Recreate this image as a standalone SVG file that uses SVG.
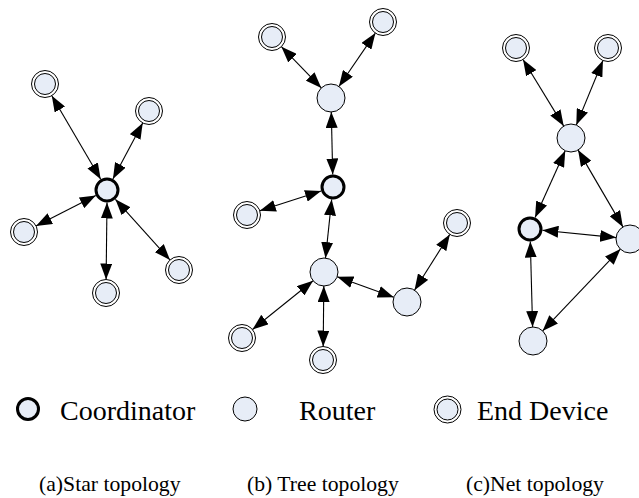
<svg xmlns="http://www.w3.org/2000/svg" width="639" height="498" viewBox="0 0 639 498">
  <style>
    .bg { fill: #ffffff; }
    .coord { fill: #e7edf7; stroke: #000; stroke-width: 3; }
    .router { fill: #e7edf7; stroke: #000; stroke-width: 1; }
    .end-outer { fill: #ffffff; stroke: #000; stroke-width: 1; }
    .end-inner { fill: #e7edf7; stroke: #000; stroke-width: 1; }
    .link { stroke: #000; stroke-width: 1.1; fill: none; marker-start: url(#arrow); marker-end: url(#arrow); }
    .legend { font-family: "Liberation Serif", "Times New Roman", serif; font-size: 28px; fill: #000; }
    .caption { font-family: "Liberation Serif", "Times New Roman", serif; font-size: 21.7px; fill: #000; }
  </style>
  <defs>
    <marker id="arrow" markerUnits="userSpaceOnUse" markerWidth="16" markerHeight="12" refX="16" refY="6" orient="auto-start-reverse">
      <path d="M0,0 L16,6 L0,12 z" fill="#000"/>
    </marker>
    <g id="endDevice">
      <circle class="end-outer" r="13.5"/>
      <circle class="end-inner" r="10.5"/>
    </g>
  </defs>
  <rect class="bg" x="0" y="0" width="639" height="498"/>

  <!-- connectors: every link is bidirectional -->
  <g id="connectors">
    <!-- star -->
    <line class="link" x1="100.7" y1="179.2" x2="51.8" y2="95.7"/>
    <line class="link" x1="112.9" y1="179.0" x2="142.7" y2="122.9"/>
    <line class="link" x1="95.8" y1="195.6" x2="36.0" y2="225.9"/>
    <line class="link" x1="107" y1="202.5" x2="106.1" y2="279.5"/>
    <line class="link" x1="115.4" y1="199.3" x2="170.0" y2="260.0"/>
    <!-- tree -->
    <line class="link" x1="321.3" y1="87.9" x2="281.4" y2="46.7"/>
    <line class="link" x1="338.9" y1="86.5" x2="375.4" y2="33.1"/>
    <line class="link" x1="331.3" y1="112" x2="332.7" y2="174.5"/>
    <line class="link" x1="321.1" y1="190.9" x2="259.8" y2="210.8"/>
    <line class="link" x1="331.7" y1="199.4" x2="325.5" y2="258.1"/>
    <line class="link" x1="313.1" y1="280.8" x2="252.5" y2="329.5"/>
    <line class="link" x1="323.8" y1="286" x2="323.2" y2="346.5"/>
    <line class="link" x1="337.2" y1="276.8" x2="393.8" y2="297.2"/>
    <line class="link" x1="414.5" y1="290.2" x2="449.8" y2="234.4"/>
    <!-- net -->
    <line class="link" x1="563.7" y1="126.1" x2="523.0" y2="59.5"/>
    <line class="link" x1="576.3" y1="125.1" x2="602.9" y2="60.5"/>
    <line class="link" x1="565.2" y1="150.8" x2="535.1" y2="217.6"/>
    <line class="link" x1="578.1" y1="150.1" x2="622.9" y2="226.9"/>
    <line class="link" x1="542.4" y1="230.2" x2="616.1" y2="237.6"/>
    <line class="link" x1="530.3" y1="241.5" x2="532.6" y2="327"/>
    <line class="link" x1="620.4" y1="249.1" x2="542.6" y2="330.9"/>
  </g>

  <!-- (a) star topology -->
  <g id="star-coordinator"><circle class="coord" cx="107" cy="190" r="11"/></g>
  <g id="star-end-1"><use href="#endDevice" x="45" y="84"/></g>
  <g id="star-end-2"><use href="#endDevice" x="149" y="111"/></g>
  <g id="star-end-3"><use href="#endDevice" x="24" y="232"/></g>
  <g id="star-end-4"><use href="#endDevice" x="106" y="293"/></g>
  <g id="star-end-5"><use href="#endDevice" x="179" y="270"/></g>

  <!-- (b) tree topology -->
  <g id="tree-end-1"><use href="#endDevice" x="272" y="37"/></g>
  <g id="tree-end-2"><use href="#endDevice" x="383" y="22"/></g>
  <g id="tree-router-1"><circle class="router" cx="331" cy="98" r="14"/></g>
  <g id="tree-coordinator"><circle class="coord" cx="333" cy="187" r="11"/></g>
  <g id="tree-end-3"><use href="#endDevice" x="247" y="215"/></g>
  <g id="tree-router-2"><circle class="router" cx="324" cy="272" r="14"/></g>
  <g id="tree-end-4"><use href="#endDevice" x="457" y="223"/></g>
  <g id="tree-router-3"><circle class="router" cx="407" cy="302" r="14"/></g>
  <g id="tree-end-5"><use href="#endDevice" x="242" y="338"/></g>
  <g id="tree-end-6"><use href="#endDevice" x="323" y="360"/></g>

  <!-- (c) net topology -->
  <g id="net-end-1"><use href="#endDevice" x="516" y="48"/></g>
  <g id="net-end-2"><use href="#endDevice" x="608" y="48"/></g>
  <g id="net-router-1"><circle class="router" cx="571" cy="138" r="14"/></g>
  <g id="net-coordinator"><circle class="coord" cx="530" cy="229" r="11"/></g>
  <g id="net-router-2"><circle class="router" cx="630" cy="239" r="14"/></g>
  <g id="net-router-3"><circle class="router" cx="533" cy="341" r="14"/></g>

  <!-- legend -->
  <g id="legend-coordinator">
    <circle class="coord" cx="28" cy="409" r="10.5"/>
    <text class="legend" x="60" y="419.5">Coordinator</text>
  </g>
  <g id="legend-router">
    <circle class="router" cx="245" cy="409" r="12"/>
    <text class="legend" x="299" y="419.5">Router</text>
  </g>
  <g id="legend-end-device">
    <use href="#endDevice" x="447.5" y="409.5"/>
    <text class="legend" x="477" y="419.5">End Device</text>
  </g>

  <!-- captions -->
  <g id="captions">
    <text class="caption" x="39" y="491">(a)Star topology</text>
    <text class="caption" x="247" y="491">(b) Tree topology</text>
    <text class="caption" x="466" y="491">(c)Net topology</text>
  </g>
</svg>
